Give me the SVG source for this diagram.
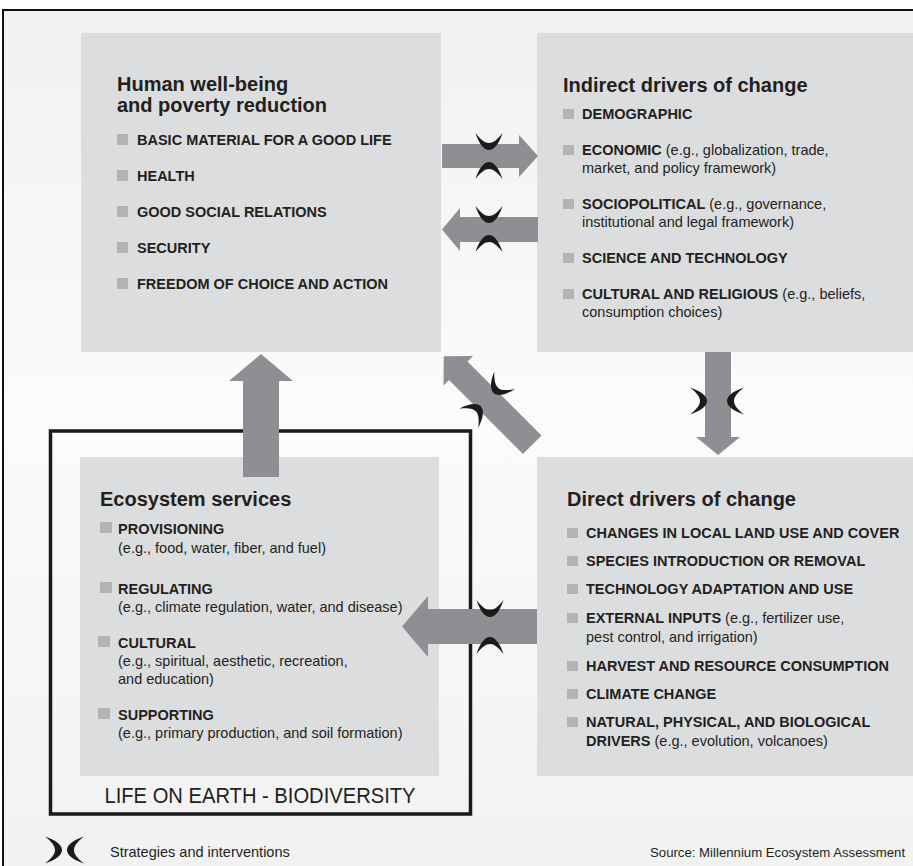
<svg xmlns="http://www.w3.org/2000/svg" width="913" height="866" viewBox="0 0 913 866">
<defs>
<linearGradient id="bg" x1="0" y1="0" x2="0" y2="1">
<stop offset="0" stop-color="#f1f1f1"/>
<stop offset="0.45" stop-color="#fbfbfb"/>
<stop offset="1" stop-color="#f1f1f1"/>
</linearGradient>
<path id="mk" d="M-13.5,-17 C-10,-6 -5,0 0,0 C5,0 10,-6 13.5,-17 C8,-10 4,-7 0,-7 C-4,-7 -8,-10 -13.5,-17 Z"/>
</defs>
<style>
.box{fill:#dcdddf}
.bul{fill:#b2b3b5}
.t{font-family:"Liberation Sans",Arial,Helvetica,sans-serif;fill:#231f20}
.title{font-size:20px;font-weight:bold}
.item{font-size:14.5px;font-weight:bold}
.n{font-weight:normal}
.arrow{fill:#8e8f92}
.mark{fill:#1b1b1b}
</style>
<rect x="0" y="0" width="913" height="866" fill="#ffffff"/>
<rect x="3" y="10" width="940" height="900" fill="url(#bg)" stroke="#111" stroke-width="2"/>

<g id="frame-life">
<rect x="50.5" y="431" width="420" height="383" fill="none" stroke="#1a1a1a" stroke-width="3.5"/>
<text class="t" x="260" y="803" font-size="22" text-anchor="middle" textLength="311" lengthAdjust="spacingAndGlyphs">LIFE ON EARTH - BIODIVERSITY</text>
</g>

<g id="node-human">
<rect class="box" x="81" y="33" width="360" height="319"/>
<text class="t title" x="117" y="91">Human well-being</text>
<text class="t title" x="117" y="112">and poverty reduction</text>
<rect class="bul" x="117" y="134" width="11" height="11"/>
<text class="t item" x="137" y="145">BASIC MATERIAL FOR A GOOD LIFE</text>
<rect class="bul" x="117" y="170" width="11" height="11"/>
<text class="t item" x="137" y="181">HEALTH</text>
<rect class="bul" x="117" y="206" width="11" height="11"/>
<text class="t item" x="137" y="217">GOOD SOCIAL RELATIONS</text>
<rect class="bul" x="117" y="242" width="11" height="11"/>
<text class="t item" x="137" y="253">SECURITY</text>
<rect class="bul" x="117" y="278" width="11" height="11"/>
<text class="t item" x="137" y="289">FREEDOM OF CHOICE AND ACTION</text>
</g>

<g id="node-indirect">
<rect class="box" x="537" y="33" width="390" height="319"/>
<text class="t title" x="563" y="92">Indirect drivers of change</text>
<rect class="bul" x="563" y="109" width="11" height="10"/>
<text class="t item" x="582" y="119">DEMOGRAPHIC</text>
<rect class="bul" x="563" y="145" width="11" height="10"/>
<text class="t item" x="582" y="155">ECONOMIC<tspan class="n"> (e.g., globalization, trade,</tspan></text>
<text class="t item n" x="582" y="173">market, and policy framework)</text>
<rect class="bul" x="563" y="199" width="11" height="10"/>
<text class="t item" x="582" y="209">SOCIOPOLITICAL<tspan class="n"> (e.g., governance,</tspan></text>
<text class="t item n" x="582" y="227">institutional and legal framework)</text>
<rect class="bul" x="563" y="253" width="11" height="10"/>
<text class="t item" x="582" y="263">SCIENCE AND TECHNOLOGY</text>
<rect class="bul" x="563" y="289" width="11" height="10"/>
<text class="t item" x="582" y="299">CULTURAL AND RELIGIOUS<tspan class="n"> (e.g., beliefs,</tspan></text>
<text class="t item n" x="582" y="317">consumption choices)</text>
</g>

<g id="node-direct">
<rect class="box" x="537" y="457" width="390" height="319"/>
<text class="t title" x="567" y="506">Direct drivers of change</text>
<rect class="bul" x="567" y="528" width="11" height="10"/>
<text class="t item" x="586" y="538">CHANGES IN LOCAL LAND USE AND COVER</text>
<rect class="bul" x="567" y="556" width="11" height="10"/>
<text class="t item" x="586" y="566">SPECIES INTRODUCTION OR REMOVAL</text>
<rect class="bul" x="567" y="584" width="11" height="10"/>
<text class="t item" x="586" y="594">TECHNOLOGY ADAPTATION AND USE</text>
<rect class="bul" x="567" y="613" width="11" height="10"/>
<text class="t item" x="586" y="623">EXTERNAL INPUTS<tspan class="n"> (e.g., fertilizer use,</tspan></text>
<text class="t item n" x="586" y="642">pest control, and irrigation)</text>
<rect class="bul" x="567" y="661" width="11" height="10"/>
<text class="t item" x="586" y="671">HARVEST AND RESOURCE CONSUMPTION</text>
<rect class="bul" x="567" y="689" width="11" height="10"/>
<text class="t item" x="586" y="699">CLIMATE CHANGE</text>
<rect class="bul" x="567" y="717" width="11" height="10"/>
<text class="t item" x="586" y="727">NATURAL, PHYSICAL, AND BIOLOGICAL</text>
<text class="t item" x="586" y="746">DRIVERS<tspan class="n"> (e.g., evolution, volcanoes)</tspan></text>
</g>

<g id="node-ecosystem">
<rect class="box" x="80" y="457" width="359" height="319"/>
<text class="t title" x="100" y="506">Ecosystem services</text>
<rect class="bul" x="100" y="522" width="12" height="11"/>
<text class="t item" x="118" y="534">PROVISIONING</text>
<text class="t item n" x="118" y="553">(e.g., food, water, fiber, and fuel)</text>
<rect class="bul" x="100" y="582" width="12" height="11"/>
<text class="t item" x="118" y="594">REGULATING</text>
<text class="t item n" x="118" y="612">(e.g., climate regulation, water, and disease)</text>
<rect class="bul" x="98" y="636" width="12" height="11"/>
<text class="t item" x="118" y="648">CULTURAL</text>
<text class="t item n" x="118" y="666">(e.g., spiritual, aesthetic, recreation,</text>
<text class="t item n" x="118" y="684">and education)</text>
<rect class="bul" x="98" y="708" width="12" height="11"/>
<text class="t item" x="118" y="720">SUPPORTING</text>
<text class="t item n" x="118" y="738">(e.g., primary production, and soil formation)</text>
</g>

<g id="connectors">
<polygon class="arrow" points="243,477 279,477 279,381 293,381 261,354 229,381 243,381"/>
<polygon class="arrow" points="442,144 519,144 519,135 538,156 519,177 519,168 442,168"/>
<polygon class="arrow" points="538,217 460,217 460,208 442,229.5 460,251 460,242 538,242"/>
<polygon class="arrow" points="705,352 731,352 731,437 740,437 718,455 696,437 705,437"/>
<polygon class="arrow" points="443.75,356.25 473,356 467.5,361.5 541.5,435.5 523,454 449,380 443.5,385.5"/>
<polygon class="arrow" points="537,609 428,609 428,596 402,626.5 428,657 428,644 537,644"/>
<use href="#mk" class="mark" transform="translate(489,150)"/>
<use href="#mk" class="mark" transform="translate(489,162) rotate(180)"/>
<use href="#mk" class="mark" transform="translate(489,223)"/>
<use href="#mk" class="mark" transform="translate(489,235) rotate(180)"/>
<use href="#mk" class="mark" transform="translate(490,617)"/>
<use href="#mk" class="mark" transform="translate(490,637) rotate(180)"/>
<use href="#mk" class="mark" transform="translate(707,401) rotate(-90)"/>
<use href="#mk" class="mark" transform="translate(727,401) rotate(90)"/>
<use href="#mk" class="mark" transform="translate(493.75,393.25) rotate(40)"/>
<use href="#mk" class="mark" transform="translate(480.75,406.25) rotate(-135)"/>
</g>

<g id="legend">
<use href="#mk" class="mark" transform="translate(62,850) rotate(-90)"/>
<use href="#mk" class="mark" transform="translate(67,850) rotate(90)"/>
<text class="t" x="110" y="857" font-size="14.5">Strategies and interventions</text>
<text class="t" x="650" y="857" font-size="13.2">Source: Millennium Ecosystem Assessment</text>
</g>
</svg>
